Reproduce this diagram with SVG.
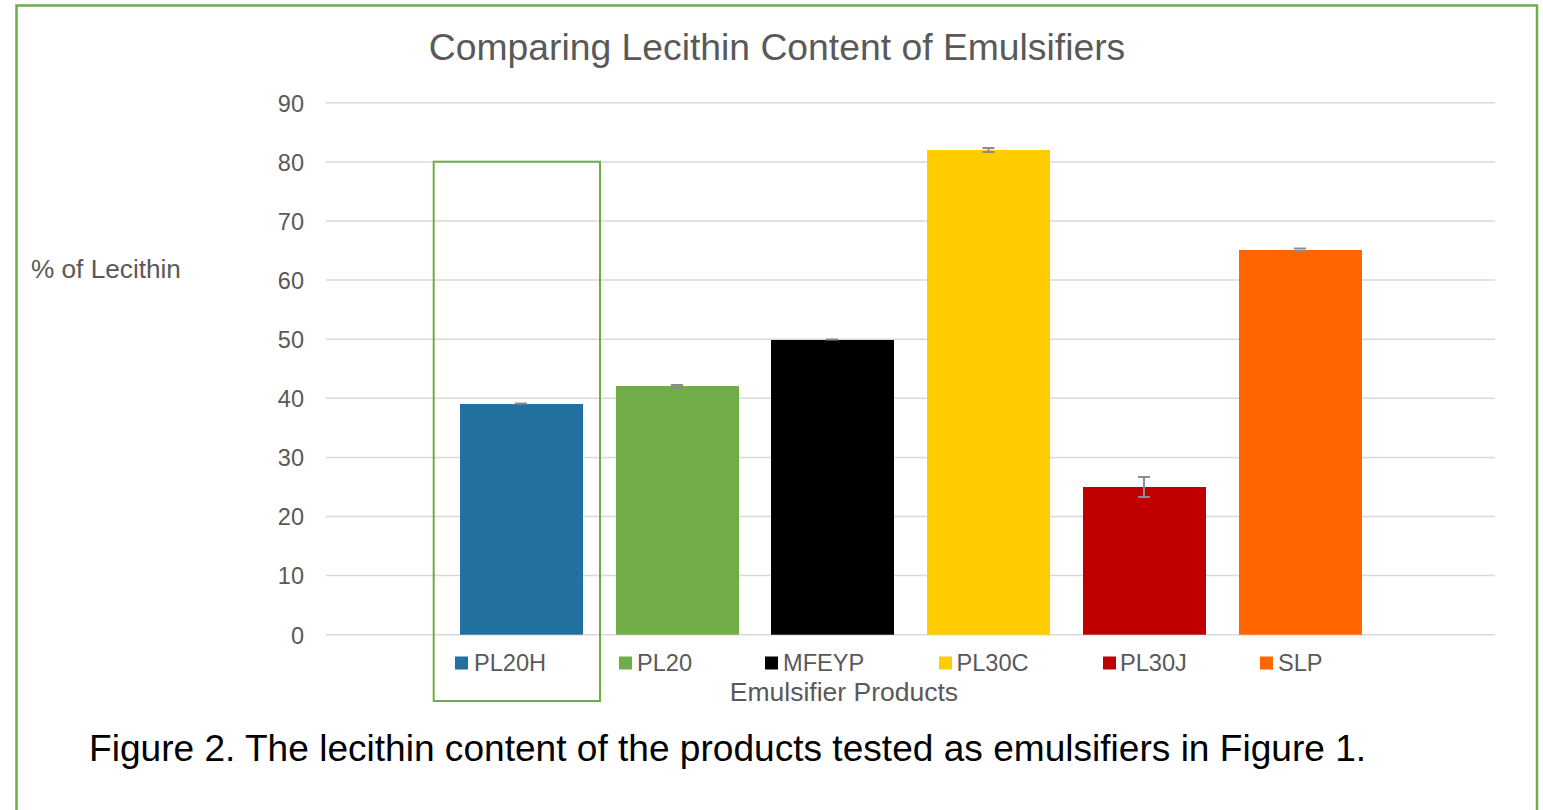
<svg xmlns="http://www.w3.org/2000/svg" width="1543" height="810" viewBox="0 0 1543 810">
<style>
.lbl{font-family:"Liberation Sans",Arial,sans-serif;fill:#595959}
.tick{font-size:23.5px;text-anchor:end}
.leg{font-size:23.6px}
.grid{stroke:#d9d9d9;stroke-width:1.5}
.err{stroke:#8c8c8c;stroke-width:2;fill:none}
</style>
<rect width="1543" height="810" fill="#fff"/>
<rect x="16.5" y="5.5" width="1520.5" height="820" fill="none" stroke="#70ad47" stroke-width="2.5"/>
<text class="lbl" x="777" y="60" font-size="37.3" text-anchor="middle">Comparing Lecithin Content of Emulsifiers</text>
<g id="grid">
<line class="grid" x1="326" y1="634.7" x2="1495" y2="634.7"/>
<line class="grid" x1="326" y1="575.6" x2="1495" y2="575.6"/>
<line class="grid" x1="326" y1="516.5" x2="1495" y2="516.5"/>
<line class="grid" x1="326" y1="457.4" x2="1495" y2="457.4"/>
<line class="grid" x1="326" y1="398.3" x2="1495" y2="398.3"/>
<line class="grid" x1="326" y1="339.2" x2="1495" y2="339.2"/>
<line class="grid" x1="326" y1="280.1" x2="1495" y2="280.1"/>
<line class="grid" x1="326" y1="221" x2="1495" y2="221"/>
<line class="grid" x1="326" y1="161.9" x2="1495" y2="161.9"/>
<line class="grid" x1="326" y1="102.8" x2="1495" y2="102.8"/>
</g>
<g id="ticks">
<text class="lbl tick" x="304" y="643.5">0</text>
<text class="lbl tick" x="304" y="584.4">10</text>
<text class="lbl tick" x="304" y="525.3">20</text>
<text class="lbl tick" x="304" y="466.2">30</text>
<text class="lbl tick" x="304" y="407.1">40</text>
<text class="lbl tick" x="304" y="348">50</text>
<text class="lbl tick" x="304" y="288.9">60</text>
<text class="lbl tick" x="304" y="229.8">70</text>
<text class="lbl tick" x="304" y="170.7">80</text>
<text class="lbl tick" x="304" y="111.6">90</text>
</g>
<text class="lbl" x="31" y="278" font-size="26.2">% of Lecithin</text>
<g id="bar-PL20H"><rect x="460" y="404" width="123" height="230.7" fill="#2271a1"/><g class="err"><line x1="515" y1="403.5" x2="527" y2="403.5"/></g></g>
<g id="bar-PL20"><rect x="616" y="386" width="123" height="248.7" fill="#70ad47"/><g class="err"><line x1="671" y1="385" x2="683" y2="385"/><line x1="671" y1="388" x2="683" y2="388"/><line x1="677" y1="385" x2="677" y2="388"/></g></g>
<g id="bar-MFEYP"><rect x="771" y="340" width="123" height="294.7" fill="#000"/><g class="err"><line x1="826" y1="339.5" x2="838" y2="339.5"/></g></g>
<g id="bar-PL30C"><rect x="927" y="150" width="123" height="484.7" fill="#ffcc00"/><g class="err"><line x1="982.5" y1="148" x2="994.5" y2="148"/><line x1="982.5" y1="152" x2="994.5" y2="152"/><line x1="988.5" y1="148" x2="988.5" y2="152"/></g></g>
<g id="bar-PL30J"><rect x="1083" y="487" width="123" height="147.7" fill="#c00000"/><g class="err"><line x1="1138" y1="477" x2="1150" y2="477"/><line x1="1138" y1="497" x2="1150" y2="497"/><line x1="1144" y1="477" x2="1144" y2="497"/></g></g>
<g id="bar-SLP"><rect x="1239" y="250" width="123" height="384.7" fill="#ff6600"/><g class="err"><line x1="1294" y1="248.5" x2="1306" y2="248.5"/><line x1="1294" y1="251" x2="1306" y2="251"/></g></g>
<g id="highlight"><rect x="433.7" y="161.7" width="166.3" height="539.3" fill="none" stroke="#70ad47" stroke-width="2"/></g>
<g id="legend">
<rect x="455" y="656.5" width="13" height="13" fill="#2271a1"/><text class="lbl leg" x="474" y="671">PL20H</text>
<rect x="619" y="656.5" width="13" height="13" fill="#70ad47"/><text class="lbl leg" x="637" y="671">PL20</text>
<rect x="765" y="656.5" width="13" height="13" fill="#000"/><text class="lbl leg" x="783" y="671">MFEYP</text>
<rect x="939" y="656.5" width="13" height="13" fill="#ffcc00"/><text class="lbl leg" x="956.5" y="671">PL30C</text>
<rect x="1103" y="656.5" width="13" height="13" fill="#c00000"/><text class="lbl leg" x="1120" y="671">PL30J</text>
<rect x="1260" y="656.5" width="13" height="13" fill="#ff6600"/><text class="lbl leg" x="1278" y="671">SLP</text>
</g>
<text class="lbl" x="844" y="701" font-size="26.5" text-anchor="middle">Emulsifier Products</text>
<text x="89" y="761" font-family="Liberation Sans,Arial,sans-serif" font-size="37.1" fill="#000">Figure 2. The lecithin content of the products tested as emulsifiers in Figure 1.</text>
</svg>
